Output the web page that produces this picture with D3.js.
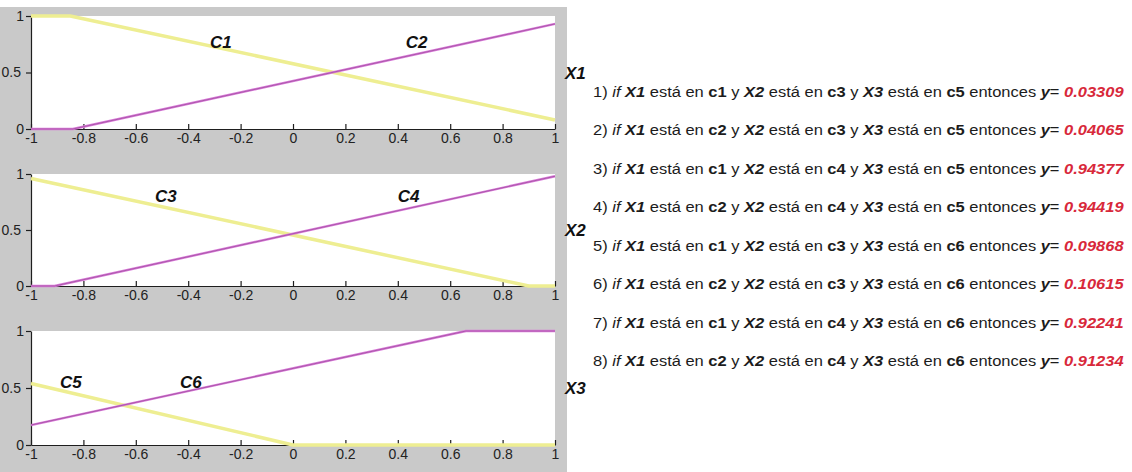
<!DOCTYPE html>
<html>
<head>
<meta charset="utf-8">
<script src="https://cdn.jsdelivr.net/npm/d3@7/dist/d3.min.js"></script>
<style>
  html, body { margin: 0; padding: 0; background: #ffffff; }
  svg { display: block; }
</style>
</head>
<body>
<svg id="chart" width="1132" height="472"></svg>
<script>
// ---- data -------------------------------------------------------------
// Axis ticks shared by the three membership panels
const xTickValues = [-1, -0.8, -0.6, -0.4, -0.2, 0, 0.2, 0.4, 0.6, 0.8, 1];
const xTickLabels = ["-1", "-0.8", "-0.6", "-0.4", "-0.2", "0", "0.2", "0.4", "0.6", "0.8", "1"];
const yTickValues = [0, 0.5, 1];
const yTickLabels = ["0", "0.5", "1"];

// Input variables and their two fuzzy sets each
const inputNames = ["X1", "X2", "X3"];
const setNames = [["C1", "C2"], ["C3", "C4"], ["C5", "C6"]];

// Membership functions as breakpoints [x, mu]
const c1 = [[-1, 1], [-0.85, 1], [1, 0.08]];
const c2 = [[-1, 0], [-0.84, 0], [1, 0.93]];
const c3 = [[-1, 0.96], [0.9, 0], [1, 0]];
const c4 = [[-1, 0], [-0.91, 0], [1, 0.98]];
const c5 = [[-1, 0.54], [0, 0], [1, 0]];
const c6 = [[-1, 0.175], [0.66, 1], [1, 1]];
const membership = [[c1, c2], [c3, c4], [c5, c6]];

// Rule base: antecedent sets per input and consequent output
const ruleX1 = ["c1", "c2", "c1", "c2", "c1", "c2", "c1", "c2"];
const ruleX2 = ["c3", "c3", "c4", "c4", "c3", "c3", "c4", "c4"];
const ruleX3 = ["c5", "c5", "c5", "c5", "c6", "c6", "c6", "c6"];
const ruleY  = [0.03309, 0.04065, 0.94377, 0.94419, 0.09868, 0.10615, 0.92241, 0.91234];

// ---- layout -----------------------------------------------------------
const FONT = "'Liberation Sans', Arial, Helvetica, sans-serif";
const plotLeft = 31, plotRight = 555;
const panelTops = [16, 174, 331];
const panelBottoms = [129, 286, 445];
// label anchors for the set names, in data units of each panel
const setLabelAt = [
  [[-0.317, 0.72], [0.43, 0.72]],
  [[-0.527, 0.75], [0.40, 0.75]],
  [[-0.889, 0.50], [-0.431, 0.50]]
];
const inputLabelX = 565;
const rulesX = 593, rulesFirstBaseline = 97, rulesStep = 38.45, rulesWidth = 531;

const svg = d3.select("#chart");

// figure background
svg.append("rect").attr("x", 0).attr("y", 7).attr("width", 567).attr("height", 465)
  .attr("fill", "#c9c9c9");

const x = d3.scaleLinear().domain([-1, 1]).range([plotLeft, plotRight]);

membership.forEach((sets, i) => {
  const y = d3.scaleLinear().domain([0, 1]).range([panelBottoms[i], panelTops[i]]);
  const g = svg.append("g");

  g.append("rect")
    .attr("x", x(-1)).attr("y", y(1))
    .attr("width", x(1) - x(-1)).attr("height", y(0) - y(1))
    .attr("fill", "#ffffff");

  // axes
  const xAxis = d3.axisBottom(x)
    .tickValues(xTickValues)
    .tickFormat((d, k) => xTickLabels[k])
    .tickSize(-5).tickSizeOuter(0).tickPadding(4);
  const gx = g.append("g").attr("transform", `translate(0,${y(0)})`).call(xAxis);

  const yAxis = d3.axisLeft(y)
    .tickValues(yTickValues)
    .tickFormat((d, k) => yTickLabels[k])
    .tickSize(5).tickSizeOuter(0).tickPadding(2);
  const gy = g.append("g").attr("transform", `translate(${x(-1)},0)`).call(yAxis);

  [gx, gy].forEach(a => {
    a.select(".domain").attr("stroke", "#1e1e1e").attr("stroke-width", 1.2);
    a.selectAll(".tick line").attr("stroke", "#1e1e1e").attr("stroke-width", 1.2);
    a.selectAll(".tick text")
      .attr("fill", "#222")
      .style("font-family", FONT)
      .style("font-size", "14px");
  });
  gy.selectAll(".tick text").filter(d => d === 0.5).attr("dx", -3);

  // membership curves
  const line = d3.line().x(d => x(d[0])).y(d => y(d[1]));
  g.append("path").datum(sets[0]).attr("d", line)
    .attr("fill", "none").attr("stroke", "#eeee92").attr("stroke-width", 3.5)
    .attr("stroke-linejoin", "round");
  g.append("path").datum(sets[1]).attr("d", line)
    .attr("fill", "none").attr("stroke", "#d97ad9").attr("stroke-width", 2.4)
    .attr("stroke-linejoin", "round");
  g.append("path").datum(sets[1]).attr("d", line)
    .attr("fill", "none").attr("stroke", "#7a3478").attr("stroke-width", 0.9)
    .attr("stroke-opacity", 0.55);

  // set names
  sets.forEach((s, k) => {
    const p = setLabelAt[i][k];
    g.append("text")
      .attr("x", x(p[0])).attr("y", y(p[1]))
      .attr("fill", "#111")
      .style("font-family", FONT).style("font-size", "17px")
      .style("font-weight", "bold").style("font-style", "italic")
      .text(setNames[i][k]);
  });

  // input name at mid height on the right
  svg.append("text")
    .attr("x", inputLabelX).attr("y", y(0.5))
    .attr("dy", "0.36em")
    .attr("fill", "#111")
    .style("font-family", FONT).style("font-size", "17px")
    .style("font-weight", "bold").style("font-style", "italic")
    .text(inputNames[i]);
});

// ---- rule base text ----------------------------------------------------
const rulesG = svg.append("g");
const rows = ruleY.map((v, r) => [
  { t: `${r + 1}) ` },
  { t: "if ", it: true },
  { t: "X1", b: true, it: true },
  { t: " está en " },
  { t: ruleX1[r], b: true },
  { t: " y " },
  { t: "X2", b: true, it: true },
  { t: " está en " },
  { t: ruleX2[r], b: true },
  { t: " y " },
  { t: "X3", b: true, it: true },
  { t: " está en " },
  { t: ruleX3[r], b: true },
  { t: " entonces " },
  { t: "y", b: true, it: true },
  { t: "= " },
  { t: v.toFixed(5), b: true, it: true, red: true }
]);

const texts = rows.map((segs, r) => {
  const txt = rulesG.append("text")
    .attr("x", 0).attr("y", 0)
    .attr("fill", "#1c1c1c")
    .style("font-family", FONT).style("font-size", "15.5px")
    .attr("xml:space", "preserve")
    .style("white-space", "pre");
  segs.forEach(s => {
    txt.append("tspan")
      .style("font-weight", s.b ? "bold" : "normal")
      .style("font-style", s.it ? "italic" : "normal")
      .attr("fill", s.red ? "#d8283a" : "#1c1c1c")
      .text(s.t);
  });
  return txt;
});

const w0 = texts[0].node().getComputedTextLength();
const sx = rulesWidth / w0;
texts.forEach((txt, r) => {
  txt.attr("transform", `translate(${rulesX},${rulesFirstBaseline + r * rulesStep}) scale(${sx},1)`);
});
</script>
</body>
</html>
